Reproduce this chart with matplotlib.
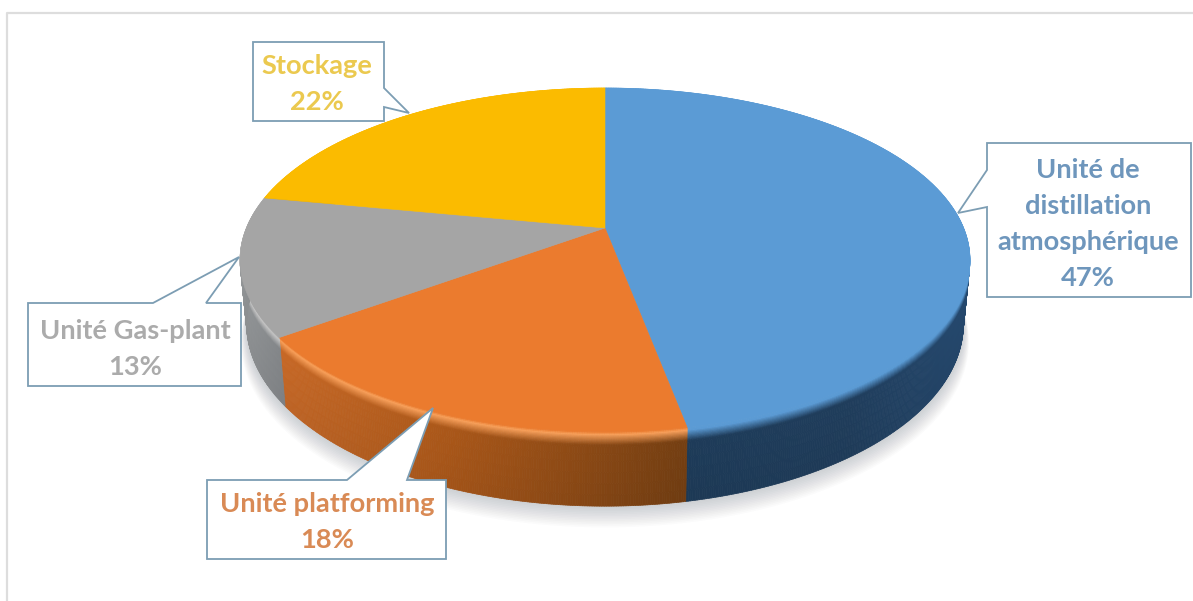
import matplotlib
matplotlib.use("Agg")
import matplotlib.pyplot as plt
from matplotlib.collections import PolyCollection
from matplotlib.colors import to_rgb
import numpy as np

plt.rcParams["font.family"] = ["Lato", "DejaVu Sans"]

labels = ["Unité de\ndistillation\natmosphérique", "Unité platforming", "Unité Gas-plant", "Stockage"]
values = [47, 18, 13, 22]
top_colours = ["#5B9BD5", "#EB7B2E", "#A5A5A5", "#FBBB00"]
text_colours = ["#6E96BC", "#D98A55", "#ABABAB", "#EBC94F"]
rim_colours = ["#5B9BD5", "#F9A05A", "#C6C6C6", "#FBBB00"]

# side wall colour stops, from left to right on screen
wall_x = [[680, 850, 970], [270, 450, 680], [240, 280, 300], [240, 600, 970]]
wall_rgb = [["#1E3C5A", "#203E5D", "#264A70"],
            ["#CB6B28", "#AC5819", "#774012"],
            ["#95989A", "#84878A", "#84878A"],
            ["#B08400", "#B08400", "#B08400"]]

# callouts: box left, top, right, bottom, then the pointer polygon
boxes = [(987, 143, 1191, 297), (207, 480, 446, 559), (28, 303, 241, 386), (253, 42, 384, 121)]
pointers = [[(987, 170), (958, 213), (987, 207)],
            [(347, 480), (433, 408), (407, 480)],
            [(153, 303), (239, 257), (206, 303)],
            [(384, 88), (409, 113), (384, 107)]]
text_pos = [(1088, 224), (327, 522), (135, 349), (317, 84)]

cx, cy = 605, 228
rx, ry = 358.6, 166
k = 0.186
depth = 62
edge = "#7C9DB3"


def project(theta, d=0.0):
    # d is the fraction of the way down the wall, 0 on the top face
    u, v = np.sin(theta), np.cos(theta)
    w = 1 + k * v
    return cx + rx * (1 - 0.018 * d) * u / w, cy - ry * (1 + 0.06 * d) * v / w + depth * d


def blend(a, b, t):
    return (1 - t) * np.array(a) + t * np.array(b)


fig = plt.figure(figsize=(11.93, 6.01), dpi=100)
ax = fig.add_axes([0, 0, 1, 1])
ax.set_xlim(0, 1193)
ax.set_ylim(601, 0)
ax.axis("off")

# outer frame
ax.plot([7, 7, 1193], [601, 13, 13], color="#DDDDDD", lw=1.6, zorder=1)

edges = np.concatenate([[0], np.cumsum(values)]) / sum(values) * 2 * np.pi
ring = np.linspace(0, 2 * np.pi, 361)

# soft shadow below the disc
for i in range(14):
    sx, sy = project(ring, 1.0 + i * 0.022)
    ax.fill(sx + (cx - sx) * (-0.0016 * i), sy, color="#5A6470", alpha=0.022, lw=0, zorder=2)

# side wall, split in strips round the rim and bands down the wall
bands = np.r_[np.linspace(0, 0.2, 13), 0.3, 0.4, 0.55, 0.7, 0.85, 1.0]
for a0, a1, top, rim, xs, stops in zip(edges[:-1], edges[1:], top_colours, rim_colours, wall_x, wall_rgb):
    th = np.linspace(a0, a1, max(int((a1 - a0) * 180), 4))
    stop_rgb = np.array([to_rgb(c) for c in stops])
    polys, cols = [], []
    for t0, t1 in zip(th[:-1], th[1:]):
        x_mid = project((t0 + t1) / 2)[0]
        base = [np.interp(x_mid, xs, stop_rgb[:, c]) for c in range(3)]
        for d0, d1 in zip(bands[:-1], bands[1:]):
            polys.append([project(t0, d0), project(t1, d0), project(t1, d1), project(t0, d1)])
            d = (d0 + d1) / 2
            if d < 0.04:
                c = blend(to_rgb(top), to_rgb(rim), d / 0.04)
            elif d < 0.18:
                c = blend(to_rgb(rim), base, (d - 0.04) / 0.14)
            else:
                c = np.array(base)
            # faint darkening towards the lower edge
            cols.append(c * (1 - 0.06 * d))
    ax.add_collection(PolyCollection(polys, facecolors=cols, edgecolors=cols, linewidths=0.5, zorder=3))

# top face
for a0, a1, top in zip(edges[:-1], edges[1:], top_colours):
    th = np.linspace(a0, a1, 200)
    x, y = project(th)
    ax.fill(np.r_[cx, x], np.r_[cy, y], color=top, lw=0.4, zorder=4)

# callouts and labels
for box, ptr, pos, label, value, colour in zip(boxes, pointers, text_pos, labels, values, text_colours):
    l, t, r, b = box
    # walk the corners and splice the pointer into the side it leaves from
    if ptr[0][0] == l and ptr[2][0] == l:
        outline = [(l, t), (r, t), (r, b), (l, b)] + ptr[::-1]
    elif ptr[0][0] == r and ptr[2][0] == r:
        outline = [(l, t), (r, t)] + ptr + [(r, b), (l, b)]
    else:
        outline = [(l, t)] + ptr + [(r, t), (r, b), (l, b)]
    xs_, ys_ = zip(*outline)
    ax.fill(xs_, ys_, facecolor="white", edgecolor=edge, lw=1.3, joinstyle="miter", zorder=5)
    ax.text(pos[0], pos[1], f"{label}\n{value}%", color=colour, fontsize=19.6, fontweight="bold",
            ha="center", va="center", linespacing=1.6, zorder=6)

fig.savefig("out.png", dpi=100)
